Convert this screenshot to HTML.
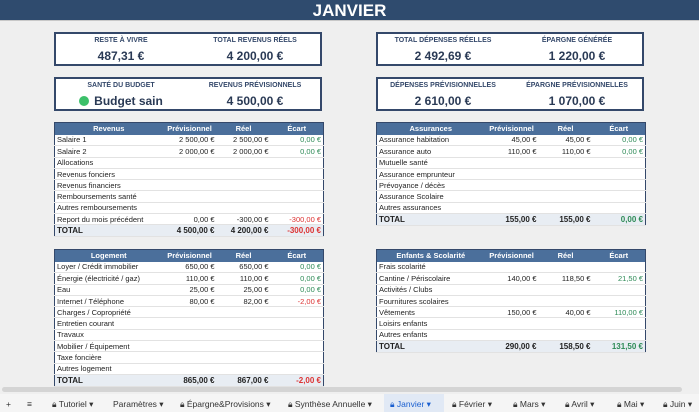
<!DOCTYPE html><html><head><meta charset="utf-8"><style>
*{margin:0;padding:0;box-sizing:border-box}
body{width:699px;height:412px;background:#efefef;font-family:"Liberation Sans",sans-serif;position:relative;overflow:hidden;color:#222}
.hdr{position:absolute;left:0;top:0;width:699px;height:21px;background:#2f4b6e;color:#fff;font-weight:bold;font-size:17px;text-align:center;line-height:22px;border-bottom:1px solid #c8c8c8}
.card{position:absolute;width:268px;height:34px;background:#fff;border:2px solid #34486a}
.card .l,.card .r{position:absolute;top:0;width:130px;text-align:center}
.card .l{left:0}.card .r{right:0}
.card .t{font-size:7px;font-weight:bold;color:#34486a;margin-top:3px;height:9px}
.card .v{font-size:12px;font-weight:bold;color:#2a3a55;margin-top:3px}
table{position:absolute;width:269px;border-collapse:collapse;table-layout:fixed;background:#fff;font-size:7.5px;border:1px solid #34486a}
th{background:#4b6f9b;color:#fff;font-weight:bold;height:12px;font-size:7.5px}
td{height:11.3px;border-bottom:1px solid #e2e2e2;padding:0 2px;white-space:nowrap;overflow:hidden}
td.n{text-align:right}
.g{color:#2e8b57}.rd{color:#d33}
tr.tot td{background:#e8edf3;font-weight:bold;font-size:8px;border-top:1px solid #34486a;height:12px}
.tabs{position:absolute;left:0;top:394px;width:699px;height:18px;background:#f5f5f5;font-size:8.5px;color:#333;white-space:nowrap}
.tabs span{position:absolute;top:5px}
.sb{position:absolute;left:2px;top:387px;width:680px;height:5px;background:#d4d4d4;border-radius:3px}
</style></head><body>
<div class="hdr">JANVIER</div>
<div class="card" style="left:54px;top:32px"><div class="l"><div class="t">RESTE À VIVRE</div><div class="v">487,31 €</div></div><div class="r"><div class="t">TOTAL REVENUS RÉELS</div><div class="v">4 200,00 €</div></div></div>
<div class="card" style="left:54px;top:77px"><div class="l"><div class="t">SANTÉ DU BUDGET</div><div class="v"><span style="display:inline-block;width:10px;height:10px;border-radius:50%;background:#3cc06a;vertical-align:-1px;margin-right:5px"></span>Budget sain</div></div><div class="r"><div class="t">REVENUS PRÉVISIONNELS</div><div class="v">4 500,00 €</div></div></div>
<div class="card" style="left:376px;top:32px"><div class="l"><div class="t">TOTAL DÉPENSES RÉELLES</div><div class="v">2 492,69 €</div></div><div class="r"><div class="t">ÉPARGNE GÉNÉRÉE</div><div class="v">1 220,00 €</div></div></div>
<div class="card" style="left:376px;top:77px"><div class="l"><div class="t">DÉPENSES PRÉVISIONNELLES</div><div class="v">2 610,00 €</div></div><div class="r"><div class="t">ÉPARGNE PRÉVISIONNELLES</div><div class="v">1 070,00 €</div></div></div>

<table style="left:54px;top:122px"><colgroup><col style="width:108px"><col style="width:54px"><col style="width:54px"><col style="width:53px"></colgroup>
<tr><th>Revenus</th><th>Prévisionnel</th><th>Réel</th><th>Écart</th></tr>
<tr><td>Salaire 1</td><td class="n">2 500,00 €</td><td class="n">2 500,00 €</td><td class="n g">0,00 €</td></tr>
<tr><td>Salaire 2</td><td class="n">2 000,00 €</td><td class="n">2 000,00 €</td><td class="n g">0,00 €</td></tr>
<tr><td>Allocations</td><td></td><td></td><td></td></tr>
<tr><td>Revenus fonciers</td><td></td><td></td><td></td></tr>
<tr><td>Revenus financiers</td><td></td><td></td><td></td></tr>
<tr><td>Remboursements santé</td><td></td><td></td><td></td></tr>
<tr><td>Autres remboursements</td><td></td><td></td><td></td></tr>
<tr><td>Report du mois précédent</td><td class="n">0,00 €</td><td class="n">-300,00 €</td><td class="n rd">-300,00 €</td></tr>
<tr class="tot"><td>TOTAL</td><td class="n">4 500,00 €</td><td class="n">4 200,00 €</td><td class="n rd">-300,00 €</td></tr>
</table>

<table style="left:54px;top:249px"><colgroup><col style="width:108px"><col style="width:54px"><col style="width:54px"><col style="width:53px"></colgroup>
<tr><th>Logement</th><th>Prévisionnel</th><th>Réel</th><th>Écart</th></tr>
<tr><td>Loyer / Crédit immobilier</td><td class="n">650,00 €</td><td class="n">650,00 €</td><td class="n g">0,00 €</td></tr>
<tr><td>Énergie (électricité / gaz)</td><td class="n">110,00 €</td><td class="n">110,00 €</td><td class="n g">0,00 €</td></tr>
<tr><td>Eau</td><td class="n">25,00 €</td><td class="n">25,00 €</td><td class="n g">0,00 €</td></tr>
<tr><td>Internet / Téléphone</td><td class="n">80,00 €</td><td class="n">82,00 €</td><td class="n rd">-2,00 €</td></tr>
<tr><td>Charges / Copropriété</td><td></td><td></td><td></td></tr>
<tr><td>Entretien courant</td><td></td><td></td><td></td></tr>
<tr><td>Travaux</td><td></td><td></td><td></td></tr>
<tr><td>Mobilier / Équipement</td><td></td><td></td><td></td></tr>
<tr><td>Taxe foncière</td><td></td><td></td><td></td></tr>
<tr><td>Autres logement</td><td></td><td></td><td></td></tr>
<tr class="tot"><td>TOTAL</td><td class="n">865,00 €</td><td class="n">867,00 €</td><td class="n rd">-2,00 €</td></tr>
</table>

<table style="left:376px;top:122px"><colgroup><col style="width:108px"><col style="width:54px"><col style="width:54px"><col style="width:53px"></colgroup>
<tr><th>Assurances</th><th>Prévisionnel</th><th>Réel</th><th>Écart</th></tr>
<tr><td>Assurance habitation</td><td class="n">45,00 €</td><td class="n">45,00 €</td><td class="n g">0,00 €</td></tr>
<tr><td>Assurance auto</td><td class="n">110,00 €</td><td class="n">110,00 €</td><td class="n g">0,00 €</td></tr>
<tr><td>Mutuelle santé</td><td></td><td></td><td></td></tr>
<tr><td>Assurance emprunteur</td><td></td><td></td><td></td></tr>
<tr><td>Prévoyance / décès</td><td></td><td></td><td></td></tr>
<tr><td>Assurance Scolaire</td><td></td><td></td><td></td></tr>
<tr><td>Autres assurances</td><td></td><td></td><td></td></tr>
<tr class="tot"><td>TOTAL</td><td class="n">155,00 €</td><td class="n">155,00 €</td><td class="n g">0,00 €</td></tr>
</table>

<table style="left:376px;top:249px"><colgroup><col style="width:108px"><col style="width:54px"><col style="width:54px"><col style="width:53px"></colgroup>
<tr><th>Enfants &amp; Scolarité</th><th>Prévisionnel</th><th>Réel</th><th>Écart</th></tr>
<tr><td>Frais scolarité</td><td></td><td></td><td></td></tr>
<tr><td>Cantine / Périscolaire</td><td class="n">140,00 €</td><td class="n">118,50 €</td><td class="n g">21,50 €</td></tr>
<tr><td>Activités / Clubs</td><td></td><td></td><td></td></tr>
<tr><td>Fournitures scolaires</td><td></td><td></td><td></td></tr>
<tr><td>Vêtements</td><td class="n">150,00 €</td><td class="n">40,00 €</td><td class="n g">110,00 €</td></tr>
<tr><td>Loisirs enfants</td><td></td><td></td><td></td></tr>
<tr><td>Autres enfants</td><td></td><td></td><td></td></tr>
<tr class="tot"><td>TOTAL</td><td class="n">290,00 €</td><td class="n">158,50 €</td><td class="n g">131,50 €</td></tr>
</table>

<div class="sb"></div>
<div class="tabs">
<div style="position:absolute;left:384px;top:0;width:60px;height:18px;background:#e1e9f5"></div>
<span style="left:6px">+</span><span style="left:27px">≡</span>
<span style="left:52px">🔒︎ Tutoriel ▾</span>
<span style="left:113px">Paramètres ▾</span>
<span style="left:180px">🔒︎ Épargne&amp;Provisions ▾</span>
<span style="left:288px">🔒︎ Synthèse Annuelle ▾</span>
<span style="left:390px;color:#1a5fd0">🔒︎ Janvier ▾</span>
<span style="left:452px">🔒︎ Février ▾</span>
<span style="left:513px">🔒︎ Mars ▾</span>
<span style="left:565px">🔒︎ Avril ▾</span>
<span style="left:617px">🔒︎ Mai ▾</span>
<span style="left:663px">🔒︎ Juin ▾</span>
</div>
</body></html>
